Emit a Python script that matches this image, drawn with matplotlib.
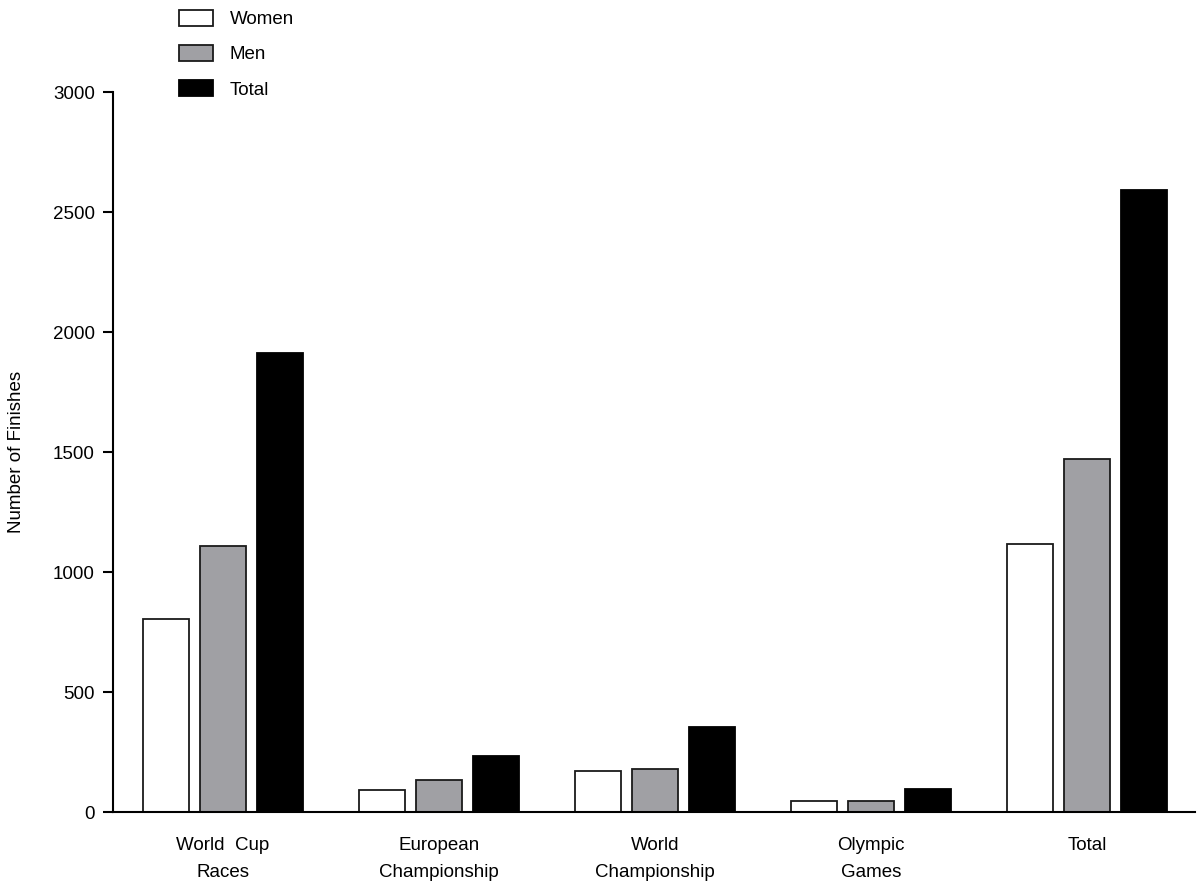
import matplotlib.pyplot as plt
import numpy as np

plt.rcParams['font.family'] = ['Liberation Sans', 'DejaVu Sans']

categories = ['World  Cup\nRaces', 'European\nChampionship', 'World\nChampionship',
              'Olympic\nGames', 'Total']
women = [804, 93, 172, 46, 1118]
men = [1108, 134, 180, 48, 1470]
total = [1914, 234, 354, 95, 2593]

x = np.arange(len(categories))
w = 0.213
step = 0.264

fig = plt.figure(figsize=(12, 8.86), dpi=100)
ax = fig.add_axes([0.094, 0.0835, 0.902, 0.8125])

ax.bar(x - step, women, w, color='white', edgecolor='#1a1a1a', linewidth=1.3, label='Women')
ax.bar(x, men, w, color='#a0a0a4', edgecolor='#1a1a1a', linewidth=1.3, label='Men')
ax.bar(x + step, total, w, color='black', edgecolor='black', linewidth=1.3, label='Total')

ax.set_xlim(-0.51, 4.5)
ax.set_ylim(0, 3000)
ax.set_yticks(np.arange(0, 3001, 500))
ax.set_xticks(x)
ax.set_xticklabels(categories, fontsize=13.5, linespacing=1.8)
ax.tick_params(axis='x', length=0, pad=18)
ax.tick_params(axis='y', length=7, width=1.5, labelsize=13.5, pad=6)
ax.set_ylabel('Number of Finishes', fontsize=13.5, labelpad=20)

for s in ['top', 'right']:
    ax.spines[s].set_visible(False)
for s in ['left', 'bottom']:
    ax.spines[s].set_linewidth(1.5)

fig.legend(loc='upper left', bbox_to_anchor=(0.135, 1.008), frameon=False,
           fontsize=13.5, handlelength=1.8, handleheight=0.92,
           labelspacing=0.9, handletextpad=0.9)

fig.savefig('out.png', dpi=100)
